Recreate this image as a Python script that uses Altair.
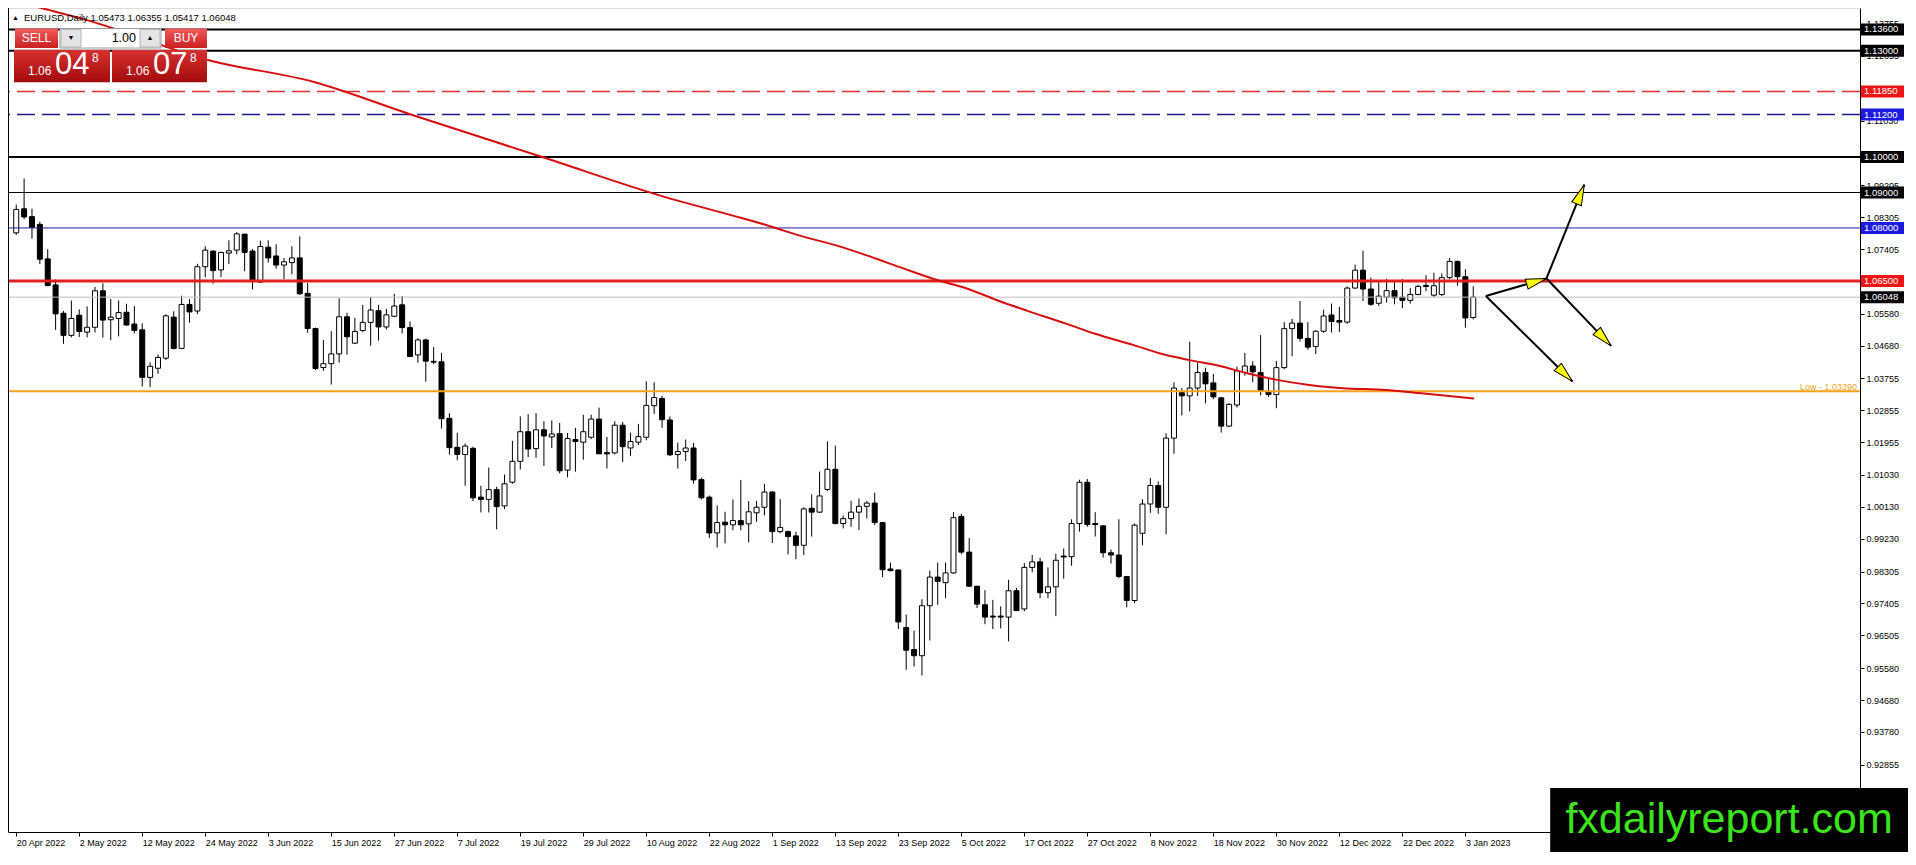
import math
import altair as alt
import pandas as pd

# ---------------- data ----------------
date_labels = ["20 Apr 2022", "2 May 2022", "12 May 2022", "24 May 2022", "3 Jun 2022",
               "15 Jun 2022", "27 Jun 2022", "7 Jul 2022", "19 Jul 2022", "29 Jul 2022",
               "10 Aug 2022", "22 Aug 2022", "1 Sep 2022", "13 Sep 2022", "23 Sep 2022",
               "5 Oct 2022", "17 Oct 2022", "27 Oct 2022", "8 Nov 2022", "18 Nov 2022",
               "30 Nov 2022", "12 Dec 2022", "22 Dec 2022", "3 Jan 2023"]

opens = [1.07861, 1.08541, 1.08320, 1.08100, 1.07127, 1.06392, 1.05593, 1.04969, 1.05538, 1.05061,
         1.05198, 1.06227, 1.05410, 1.05446, 1.05621, 1.05290, 1.05125, 1.03784, 1.04041, 1.04326,
         1.05483, 1.04601, 1.05841, 1.05657, 1.06906, 1.07347, 1.06815, 1.07292, 1.07375, 1.07825,
         1.07347, 1.06473, 1.07457, 1.07209, 1.06953, 1.07024, 1.07154, 1.06154, 1.05162, 1.04060,
         1.04170, 1.04446, 1.05493, 1.04749, 1.05107, 1.05336, 1.05666, 1.05206, 1.05509, 1.05831,
         1.05189, 1.04418, 1.04840, 1.04235, 1.04225, 1.02628, 1.01809, 1.01608, 1.01782, 1.00405,
         1.00341, 1.00617, 1.00157, 1.00827, 1.01415, 1.02250, 1.01773, 1.02305, 1.02103, 1.02195,
         1.01166, 1.02030, 1.01956, 1.02094, 1.02608, 1.01662, 1.01653, 1.02434, 1.01791, 1.01956,
         1.02094, 1.02985, 1.03187, 1.02581, 1.01607, 1.01690, 1.01791, 1.00900, 1.00404, 0.99394,
         0.99697, 0.99624, 0.99743, 0.99651, 0.99962, 1.00118, 1.00549, 0.99431, 0.99431, 0.99311,
         0.99046, 1.00091, 0.99981, 1.00622, 1.01190, 0.99660, 0.99797, 0.99981, 1.00146, 1.00237,
         0.99687, 0.98377, 0.98349, 0.96727, 0.96104, 0.95930, 0.97341, 0.98148, 0.97992, 0.98267,
         0.99861, 0.98853, 0.97891, 0.97368, 0.97048, 0.97048, 0.97020, 0.97763, 0.97249, 0.98422,
         0.98578, 0.97708, 0.97873, 0.98743, 0.98725, 0.99660, 1.00824, 0.99660, 0.99596, 0.98835,
         0.98771, 0.98166, 0.97488, 0.99385, 1.00210, 1.00732, 1.00118, 1.02070, 1.03353, 1.03262,
         1.03482, 1.03922, 1.03628, 1.03207, 1.02409, 1.03005, 1.03922, 1.04105, 1.03922, 1.03390,
         1.03298, 1.04059, 1.05159, 1.05315, 1.04884, 1.04655, 1.05086, 1.05544, 1.05388, 1.05342,
         1.06304, 1.06809, 1.06277, 1.05874, 1.06048, 1.06231, 1.06048, 1.05956, 1.06121, 1.06378,
         1.06103, 1.06121, 1.06598, 1.07056, 1.06625, 1.05473]

highs = [1.08660, 1.09395, 1.08541, 1.08174, 1.07402, 1.06548, 1.05657, 1.05951, 1.05703, 1.05786,
         1.06337, 1.06438, 1.05997, 1.05951, 1.05860, 1.05795, 1.05309, 1.04207, 1.04427, 1.05566,
         1.05648, 1.06089, 1.05997, 1.06989, 1.07485, 1.07365, 1.07329, 1.07650, 1.07880, 1.07834,
         1.07402, 1.07641, 1.07650, 1.07539, 1.07154, 1.07484, 1.07760, 1.06446, 1.05190, 1.04840,
         1.05088, 1.06016, 1.05611, 1.05465, 1.05831, 1.06052, 1.05831, 1.05713, 1.06143, 1.06079,
         1.05363, 1.04887, 1.04876, 1.04638, 1.04473, 1.02774, 1.02223, 1.01920, 1.01828, 1.00727,
         1.01240, 1.00700, 1.01043, 1.01993, 1.02682, 1.02746, 1.02774, 1.02544, 1.02572, 1.02498,
         1.02213, 1.02360, 1.02728, 1.02728, 1.02930, 1.02103, 1.02544, 1.02526, 1.02223, 1.02471,
         1.03673, 1.03646, 1.03260, 1.02682, 1.01947, 1.02030, 1.01938, 1.00955, 1.00450, 1.00174,
         0.99991, 1.00340, 1.00891, 1.00294, 1.00301, 1.00778, 1.00576, 1.00347, 0.99460, 0.99431,
         1.00118, 1.00485, 1.01126, 1.01979, 1.01859, 0.99889, 1.00301, 1.00365, 1.00301, 1.00530,
         0.99700, 0.98560, 0.98360, 0.97094, 0.96635, 0.97524, 0.98331, 0.98560, 0.98560, 0.99981,
         0.99935, 0.99247, 0.97900, 0.97781, 0.97506, 0.97323, 0.98074, 0.97845, 0.98542, 0.98771,
         0.98698, 0.98422, 0.98807, 0.98954, 0.99779, 1.00897, 1.00915, 0.99981, 0.99610, 0.98927,
         0.99779, 0.98180, 0.99660, 1.00347, 1.00943, 1.00851, 1.02208, 1.03647, 1.03482, 1.04792,
         1.04196, 1.04059, 1.03876, 1.03234, 1.03051, 1.04086, 1.04471, 1.04242, 1.04976, 1.03738,
         1.04242, 1.05342, 1.05434, 1.05938, 1.05342, 1.05113, 1.05690, 1.05865, 1.05773, 1.06350,
         1.06964, 1.07358, 1.06598, 1.06488, 1.06561, 1.06506, 1.06561, 1.06304, 1.06396, 1.06671,
         1.06735, 1.06717, 1.07148, 1.07080, 1.06836, 1.06355]

lows = [1.07800, 1.08247, 1.07696, 1.06980, 1.06355, 1.05125, 1.04730, 1.04914, 1.04923, 1.04914,
        1.05051, 1.04904, 1.04831, 1.04941, 1.05235, 1.05024, 1.03527, 1.03509, 1.03885, 1.04271,
        1.04574, 1.04592, 1.05327, 1.05566, 1.06612, 1.06429, 1.06612, 1.06980, 1.07255, 1.06778,
        1.06264, 1.06446, 1.07024, 1.06851, 1.06548, 1.06694, 1.06107, 1.05041, 1.03994, 1.03967,
        1.03581, 1.04201, 1.04427, 1.04729, 1.05060, 1.04674, 1.04820, 1.05134, 1.05482, 1.05024,
        1.04363, 1.04201, 1.03663, 1.04151, 1.02341, 1.01608, 1.01443, 1.00727, 1.00289, 0.99972,
        0.99972, 0.99496, 1.00065, 1.00781, 1.01185, 1.01534, 1.01515, 1.01286, 1.01791, 1.01075,
        1.00965, 1.01121, 1.01460, 1.02039, 1.01626, 1.01213, 1.01607, 1.01396, 1.01561, 1.01873,
        1.02011, 1.02755, 1.02360, 1.01561, 1.01213, 1.01424, 1.00781, 1.00340, 0.99256, 0.98981,
        0.99100, 0.99468, 0.99468, 0.99128, 0.99706, 0.99889, 0.99110, 0.99385, 0.98789, 0.98652,
        0.98771, 0.99293, 0.99962, 1.00576, 0.99640, 0.99522, 0.99568, 0.99477, 0.99797, 0.99614,
        0.98148, 0.98310, 0.96681, 0.95535, 0.95627, 0.95371, 0.96360, 0.97368, 0.97552, 0.98239,
        0.98789, 0.97873, 0.97277, 0.96819, 0.96681, 0.96700, 0.96333, 0.97190, 0.97185, 0.98285,
        0.97552, 0.97552, 0.97048, 0.98102, 0.98468, 0.99431, 0.99568, 0.99293, 0.98698, 0.98532,
        0.98120, 0.97295, 0.97414, 0.99046, 0.99962, 0.99935, 0.99357, 1.01630, 1.02712, 1.02822,
        1.03262, 1.03051, 1.03170, 1.02226, 1.02382, 1.02932, 1.03830, 1.03647, 1.03280, 1.03234,
        1.02913, 1.04013, 1.04380, 1.04792, 1.04563, 1.04444, 1.05040, 1.05049, 1.05067, 1.05296,
        1.06286, 1.05938, 1.05800, 1.05800, 1.05892, 1.05846, 1.05736, 1.05865, 1.06103, 1.06213,
        1.06048, 1.06075, 1.06561, 1.06369, 1.05186, 1.05417]

closes = [1.08523, 1.08311, 1.08017, 1.07118, 1.06374, 1.05575, 1.04969, 1.05446, 1.05079, 1.05198,
          1.06227, 1.05400, 1.05483, 1.05612, 1.05263, 1.05107, 1.03784, 1.04096, 1.04344, 1.05520,
          1.04601, 1.05841, 1.05630, 1.06906, 1.07375, 1.06796, 1.07310, 1.07356, 1.07834, 1.07310,
          1.06530, 1.07476, 1.07154, 1.06953, 1.07044, 1.07154, 1.06143, 1.05162, 1.04032, 1.04170,
          1.04446, 1.05493, 1.04931, 1.05079, 1.05336, 1.05685, 1.05206, 1.05548, 1.05796, 1.05189,
          1.04371, 1.04840, 1.04242, 1.04214, 1.02617, 1.01801, 1.01608, 1.01846, 1.00385, 1.00341,
          1.00617, 1.00137, 1.00781, 1.01415, 1.02250, 1.01763, 1.02305, 1.02131, 1.02186, 1.01148,
          1.02057, 1.01975, 1.02250, 1.02608, 1.01626, 1.01626, 1.02434, 1.01828, 1.01975, 1.02112,
          1.02994, 1.03214, 1.02590, 1.01598, 1.01690, 1.01791, 1.00891, 1.00386, 0.99394, 0.99688,
          0.99624, 0.99743, 0.99624, 0.99991, 1.00118, 1.00549, 0.99431, 0.99550, 0.99293, 0.99046,
          1.00072, 0.99981, 1.00439, 1.01190, 0.99660, 0.99797, 0.99981, 1.00146, 1.00237, 0.99687,
          0.98358, 0.98331, 0.96883, 0.96085, 0.95930, 0.97341, 0.98148, 0.98028, 0.98267, 0.99825,
          0.98853, 0.97891, 0.97387, 0.97020, 0.97020, 0.97020, 0.97763, 0.97204, 0.98422, 0.98578,
          0.97708, 0.97873, 0.98624, 0.98716, 0.99660, 1.00824, 0.99632, 0.99632, 0.98835, 0.98771,
          0.98166, 0.97488, 0.99614, 1.00210, 1.00732, 1.00118, 1.02070, 1.03482, 1.03262, 1.03482,
          1.03922, 1.03601, 1.03234, 1.02409, 1.03023, 1.03967, 1.04105, 1.03940, 1.03417, 1.03298,
          1.04059, 1.05159, 1.05315, 1.04884, 1.04636, 1.05086, 1.05516, 1.05361, 1.05342, 1.06304,
          1.06809, 1.06277, 1.05846, 1.06075, 1.06231, 1.06029, 1.05956, 1.06121, 1.06350, 1.06350,
          1.06369, 1.06598, 1.07056, 1.06625, 1.05461, 1.06048]

# moving average (bar index, value)
ma_idx = [0, 3.1, 9.2, 24.7, 37.8, 50.0, 66.8, 82.1, 92.1, 95.7, 99.4, 104.2, 107.8, 112.1,
          116.9, 120.6, 124.8, 128.4, 133.3, 136.9, 141.8, 145.4, 149.0, 152.7, 156.3, 159.9,
          164.2, 168.4, 173.9, 178.1, 185.1]
ma_val = [1.1439, 1.1421, 1.1385, 1.1272, 1.1212, 1.1121, 1.1000, 1.0889, 1.0828, 1.0805,
          1.0779, 1.0750, 1.0724, 1.0690, 1.0653, 1.0630, 1.0594, 1.0566, 1.0530, 1.0502,
          1.0470, 1.0445, 1.0427, 1.0411, 1.0390, 1.0372, 1.0357, 1.0348, 1.0343, 1.0334, 1.0319]

level_prices = [1.13600, 1.13000, 1.11850, 1.11200, 1.10000, 1.09000, 1.08000, 1.06500, 1.06048, 1.03390]
level_colors = ["#000000", "#000000", "#e23333", "#1c1c8c", "#000000", "#000000", "#1e1e9a",
                "#e3211c", "#c0c0c0", "#f5a31a"]
level_widths = [2, 2, 1.5, 1.5, 2, 1, 1, 3, 1, 2]
level_dashed = [False, False, True, True, False, False, False, False, False, False]
box_colors = ["#000000", "#000000", "#f01414", "#1a1ae0", "#000000", "#000000", "#1a1ae0",
              "#f01414", "#000000", ""]
low_level = 1.03390

price_ticks = [1.13755, 1.12855, 1.11930, 1.11030, 1.10105, 1.09205, 1.08305, 1.07405, 1.06480,
               1.05580, 1.04680, 1.03755, 1.02855, 1.01955, 1.01030, 1.00130, 0.99230, 0.98305,
               0.97405, 0.96505, 0.95580, 0.94680, 0.93780, 0.92855]

arrow_x1 = [186.6, 194.3, 194.3, 186.6]
arrow_y1 = [1.06079, 1.06575, 1.06575, 1.06079]
arrow_x2 = [194.3, 199.1, 202.5, 197.6]
arrow_y2 = [1.06575, 1.09220, 1.04674, 1.03669]

# ---------------- layout ----------------
W, H = 1852, 824
X_MIN, X_MAX = -0.41, 233.47
Y_MIN, Y_MAX = 0.90956, 1.14206
PY = H / 844.0
PX = W / 1871.0
FONT = "Liberation Sans"

candles = pd.DataFrame({"i": list(range(len(opens))), "o": opens, "h": highs, "l": lows, "c": closes})
candles["fill"] = ["#ffffff" if c > o else "#000000" for o, c in zip(opens, closes)]

xscale = alt.Scale(domain=[X_MIN, X_MAX], nice=False, zero=False)
yscale = alt.Scale(domain=[Y_MIN, Y_MAX], nice=False, zero=False)
label_js = "[" + ",".join("'" + d + "'" for d in date_labels) + "]"
xaxis = alt.Axis(values=[8 * k for k in range(len(date_labels))],
                 labelExpr=label_js + "[round(datum.value / 8)]",
                 title=None, orient="bottom", labelAlign="left", labelPadding=2,
                 labelFontSize=9, tickSize=4, labelOverlap=False, labelBound=False,
                 labelFlush=False, domainColor="black", tickColor="black",
                 labelColor="black", grid=False, labelFont=FONT)
yaxis = alt.Axis(values=price_ticks, format=".5f", orient="right", title=None,
                 labelFontSize=9, tickSize=4, labelPadding=2, labelOverlap=False,
                 domainColor="black", tickColor="black", labelColor="black",
                 grid=False, labelFont=FONT, labelBound=False, labelFlush=False)


def X(f):
    return alt.X(f, type="quantitative", scale=xscale, axis=xaxis)


def Y(f):
    return alt.Y(f, type="quantitative", scale=yscale, axis=yaxis)


wicks = alt.Chart(candles).mark_rule(color="black", strokeWidth=1).encode(
    x=X("i"), y=Y("l"), y2="h")
bodies = alt.Chart(candles).mark_bar(size=5, stroke="black", strokeWidth=1).encode(
    x=X("i"), y=Y("o"), y2="c", fill=alt.Fill("fill:N", scale=None))

levels_df = pd.DataFrame({"p": level_prices, "col": level_colors, "w": level_widths,
                          "dash": level_dashed, "bg": box_colors})
solid = alt.Chart(levels_df[~levels_df["dash"]]).mark_rule().encode(
    y=Y("p"), color=alt.Color("col:N", scale=None),
    strokeWidth=alt.StrokeWidth("w:Q", scale=None))
dashed = alt.Chart(levels_df[levels_df["dash"]]).mark_rule(strokeDash=[18, 7]).encode(
    y=Y("p"), color=alt.Color("col:N", scale=None),
    strokeWidth=alt.StrokeWidth("w:Q", scale=None))

ma_df = pd.DataFrame({"i": ma_idx, "v": ma_val})
ma = alt.Chart(ma_df).mark_line(color="#d90d0d", strokeWidth=2, clip=True,
                                 interpolate="monotone").encode(x=X("i"), y=Y("v"))

kx = W / (X_MAX - X_MIN)
ky = H / (Y_MAX - Y_MIN)
arr = pd.DataFrame({"x1": arrow_x1, "y1": arrow_y1, "x2": arrow_x2, "y2": arrow_y2})
arr["ang"] = [(math.degrees(math.atan2((b - a) * kx, (d - c) * ky)) + 360) % 360
              for a, b, c, d in zip(arrow_x1, arrow_x2, arrow_y1, arrow_y2)]
arrow_lines = alt.Chart(arr).mark_rule(color="black", strokeWidth=2).encode(
    x=X("x1"), y=Y("y1"), x2="x2", y2="y2")
heads = alt.Chart(arr).mark_point(shape="M0,0L0.25,1L-0.25,1Z", filled=True, color="#ffff00",
                                  stroke="#000000", strokeWidth=1, size=1700, opacity=1).encode(
    x=X("x2"), y=Y("y2"), angle=alt.Angle("ang:Q", scale=None))

low_df = pd.DataFrame({"p": [low_level], "t": ["Low - %.5f" % low_level]})
low_text = alt.Chart(low_df).mark_text(align="right", baseline="bottom", fontSize=9,
                                       color="#f5a31a", dy=1, font=FONT).encode(
    x=alt.value(W - 3), y=Y("p"), text="t:N")

boxes_df = levels_df[levels_df["bg"] != ""].copy()
boxes_df["lab"] = ["%.5f" % p for p in boxes_df["p"]]
boxes = alt.Chart(boxes_df).mark_rect(yOffset=-6, y2Offset=6).encode(
    x=alt.value(W + 1), x2=alt.value(W + 44), y=Y("p"), y2="p",
    color=alt.Color("bg:N", scale=None))
box_text = alt.Chart(boxes_df).mark_text(align="left", baseline="middle", fontSize=9.5,
                                         color="white", font=FONT).encode(
    x=alt.value(W + 4), y=Y("p"), text="lab:N")

one = pd.DataFrame({"a": [0]})
border = alt.Chart(one).mark_rule(color="black", strokeWidth=1).encode(
    x=alt.value(0.5), y=alt.value(0), y2=alt.value(H))


def rect(x0, x1, y0, y1, fill, stroke=None):
    kw = {"fill": fill}
    if stroke:
        kw["stroke"] = stroke
        kw["strokeWidth"] = 1
    return alt.Chart(one).mark_rect(**kw).encode(
        x=alt.value(x0), x2=alt.value(x1), y=alt.value(y0 * PY), y2=alt.value(y1 * PY))


def txt(s, x, y, size, color, align="left", weight="normal", font=FONT):
    return alt.Chart(one).mark_text(text=s, align=align, baseline="middle", fontSize=size,
                                    color=color, fontWeight=weight, font=font).encode(
        x=alt.value(x), y=alt.value(y * PY))


btn_grad = alt.LinearGradient(gradient="linear", x1=0, x2=0, y1=0, y2=1,
                              stops=[alt.GradientStop(color="#f05a5a", offset=0),
                                     alt.GradientStop(color="#cc2020", offset=1)])
box_grad = alt.LinearGradient(gradient="linear", x1=0, x2=0, y1=0, y2=1,
                              stops=[alt.GradientStop(color="#d83030", offset=0),
                                     alt.GradientStop(color="#a30c0c", offset=1)])


def grect(x0, x1, y0, y1, grad):
    return alt.Chart(one).mark_rect(fill=grad).encode(
        x=alt.value(x0), x2=alt.value(x1), y=alt.value(y0 * PY), y2=alt.value(y1 * PY))


title_str = "EURUSD,Daily  %.5f %.5f %.5f %.5f" % (opens[-1], highs[-1], lows[-1], closes[-1])
panel = [
    txt("\u25b2", 4, 10.5, 7, "black"),
    txt(title_str, 16, 10.5, 9.5, "black"),
    grect(7, 50, 21, 41, btn_grad),
    txt("SELL", 28.5, 31, 12, "white", align="center"),
    rect(52, 153, 21, 41, "#ffffff", "#9a9a9a"),
    rect(53, 73, 22, 40, "#e4e4e4", "#b4b4b4"),
    rect(132, 152, 22, 40, "#e4e4e4", "#b4b4b4"),
    txt("\u25bc", 63, 31, 7, "black", align="center"),
    txt("\u25b2", 142, 31, 7, "black", align="center"),
    txt("1.00", 128, 31, 12.5, "black", align="right"),
    grect(157, 199, 21, 41, btn_grad),
    txt("BUY", 178, 31, 12, "white", align="center"),
    grect(6, 102, 43, 76, box_grad),
    grect(104, 199, 43, 76, box_grad),
    txt("1.06", 20, 64.5, 12, "white"),
    txt("04", 47, 58.5, 31, "white"),
    txt("8", 84, 51, 12, "white"),
    txt("1.06", 118, 64.5, 12, "white"),
    txt("07", 145, 58.5, 31, "white"),
    txt("8", 182, 51, 12, "white"),
]

wm_x0 = 1558 * PX
watermark = [
    alt.Chart(one).mark_rect(fill="#000000").encode(
        x=alt.value(wm_x0), x2=alt.value(W + 48), y=alt.value(H - 44), y2=alt.value(H + 20)),
    alt.Chart(one).mark_text(text="fxdailyreport.com", align="center", baseline="middle",
                             fontSize=43, color="#3be41c", font=FONT).encode(
        x=alt.value((wm_x0 + W + 48) / 2), y=alt.value(H - 12)),
]

chart = alt.layer(
    wicks, bodies, solid, dashed, ma, arrow_lines, heads, low_text, boxes, box_text, border,
    *panel, *watermark
).properties(
    width=W, height=H,
    autosize=alt.AutoSizeParams(type="none"),
    padding={"left": 0, "top": 0, "right": 48, "bottom": 20},
).configure_view(strokeWidth=0).configure(font=FONT, background="white")

chart.save("out.html", embed_options={"renderer": "svg", "actions": False})
